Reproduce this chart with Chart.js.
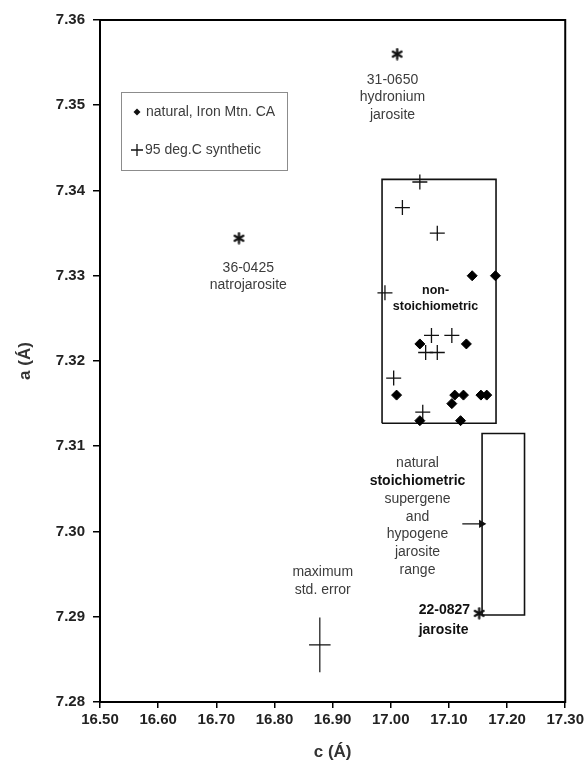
<!DOCTYPE html>
<html>
<head>
<meta charset="utf-8">
<script src="https://cdn.jsdelivr.net/npm/chart.js@4.4.1/dist/chart.umd.min.js"></script>
<style>
    html, body { margin: 0; padding: 0; background: #fff; }
    #wrap { position: relative; width: 587px; height: 763px; }
</style>
</head>
<body>
<div id="wrap"><canvas id="chart"></canvas></div>
<script>
// natural, Iron Mtn. CA  (c, a)
const naturalC = [17.14, 17.18, 17.05, 17.13, 17.01, 17.11, 17.125, 17.155, 17.165, 17.105, 17.05, 17.12];
const naturalA = [7.330, 7.330, 7.322, 7.322, 7.316, 7.316, 7.316, 7.316, 7.316, 7.315, 7.313, 7.313];

// 95 deg.C synthetic
const syntheticC = [17.05, 17.02, 17.08, 16.99, 17.07, 17.105, 17.06, 17.08, 17.005, 17.055];
const syntheticA = [7.341, 7.338, 7.335, 7.328, 7.323, 7.323, 7.321, 7.321, 7.318, 7.314];

// reference cards: 31-0650, 36-0425, 22-0827
const refC = [17.011, 16.739, 17.152];
const refA = [7.356, 7.3344, 7.2904];

// non-stoichiometric box and natural stoichiometric range box
const nonStoichC = [16.985, 17.181];
const nonStoichA = [7.3127, 7.3413];
const rangeC = [17.157, 17.230];
const rangeA = [7.2902, 7.3115];

// arrow pointing at the range box
const arrowC = [17.123, 17.156];
const arrowA = [7.3009, 7.3009];

// maximum std. error cross
const errC = [16.878];
const errA = [7.2867];
const errSizeC = [0.0185];
const errSizeA = [0.0032];

// axes
const cMin = 16.50, cMax = 17.30, cStep = 0.10;
const aMin = 7.28, aMax = 7.36, aStep = 0.01;

// text notes, placed in data units
const notes = [
    { c: 17.003, a: 7.3530, lines: [['31-0650', false], ['hydronium', false], ['jarosite', false]], size: 14, gap: 17.5 },
    { c: 16.755, a: 7.3309, lines: [['36-0425', false], ['natrojarosite', false]], size: 14, gap: 17.5 },
    { c: 17.077, a: 7.3283, lines: [['non-', true], ['stoichiometric', true]], size: 12.5, gap: 16.5 },
    { c: 17.046, a: 7.3080, lines: [['natural', false], ['stoichiometric', true], ['supergene', false], ['and', false], ['hypogene', false], ['jarosite', false], ['range', false]], size: 14, gap: 17.8 },
    { c: 16.883, a: 7.2952, lines: [['maximum', false], ['std. error', false]], size: 14, gap: 17.3 },
    { c: 17.048, a: 7.2908, lines: [['22-0827', true], ['jarosite', true]], size: 14, gap: 20, align: 'left' }
];

function toPoints(cs, as) {
    return cs.map((c, i) => ({ x: c, y: as[i] }));
}

function boxPoints(cs, as) {
    return [
        { x: cs[0], y: as[0] }, { x: cs[1], y: as[0] },
        { x: cs[1], y: as[1] }, { x: cs[0], y: as[1] },
        { x: cs[0], y: as[0] }
    ];
}

// asterisk marker
function makeAsterisk() {
    const cv = document.createElement('canvas');
    cv.width = 13; cv.height = 13;
    const g = cv.getContext('2d');
    g.strokeStyle = '#111';
    g.lineWidth = 2.3;
    g.lineCap = 'round';
    const r = 5;
    [90, 30, 150].forEach(deg => {
        const t = deg * Math.PI / 180;
        g.beginPath();
        g.moveTo(6.5 - r * Math.cos(t), 6.5 - r * Math.sin(t));
        g.lineTo(6.5 + r * Math.cos(t), 6.5 + r * Math.sin(t));
        g.stroke();
    });
    return cv;
}
const asterisk = makeAsterisk();

const lineSet = (pts, width) => ({
    data: pts,
    showLine: true,
    borderColor: '#111',
    borderWidth: width,
    pointRadius: 0,
    fill: false
});

const overlay = {
    id: 'overlay',
    afterDraw(chart) {
        const { ctx, chartArea: a, scales: { x, y } } = chart;
        ctx.save();

        // frame round the plot
        ctx.strokeStyle = '#000';
        ctx.lineWidth = 2;
        ctx.strokeRect(a.left, a.top, a.right - a.left, a.bottom - a.top);

        // notes
        ctx.textBaseline = 'middle';
        notes.forEach(n => {
            const px = x.getPixelForValue(n.c);
            const py = y.getPixelForValue(n.a);
            ctx.textAlign = n.align || 'center';
            n.lines.forEach(([text, bold], i) => {
                ctx.font = (bold ? 'bold ' : '') + n.size + 'px "Liberation Sans", Arial, sans-serif';
                ctx.fillStyle = bold ? '#111' : '#3c3c3c';
                ctx.fillText(text, px, py + i * n.gap);
            });
        });

        // legend box
        const lx = a.left + 21, ly = a.top + 72;
        ctx.strokeStyle = '#8c8c8c';
        ctx.lineWidth = 1;
        ctx.strokeRect(lx + 0.5, ly + 0.5, 166, 78);

        ctx.fillStyle = '#111';
        ctx.beginPath();
        ctx.moveTo(lx + 16, ly + 16.5);
        ctx.lineTo(lx + 19.5, ly + 20);
        ctx.lineTo(lx + 16, ly + 23.5);
        ctx.lineTo(lx + 12.5, ly + 20);
        ctx.closePath();
        ctx.fill();

        ctx.strokeStyle = '#111';
        ctx.lineWidth = 1.3;
        ctx.beginPath();
        ctx.moveTo(lx + 10, ly + 58); ctx.lineTo(lx + 22, ly + 58);
        ctx.moveTo(lx + 16, ly + 52); ctx.lineTo(lx + 16, ly + 64);
        ctx.stroke();

        ctx.font = '14px "Liberation Sans", Arial, sans-serif';
        ctx.fillStyle = '#3c3c3c';
        ctx.textAlign = 'left';
        ctx.fillText('natural, Iron Mtn. CA', lx + 25, ly + 20);
        ctx.fillText('95 deg.C synthetic', lx + 24, ly + 58);

        ctx.restore();
    }
};

const errPts = errC.map((c, i) => [
    { x: c, y: errA[i] + errSizeA[i] }, { x: c, y: errA[i] - errSizeA[i] }
]);
const errHPts = errC.map((c, i) => [
    { x: c - errSizeC[i], y: errA[i] }, { x: c + errSizeC[i], y: errA[i] }
]);

new Chart(document.getElementById('chart'), {
    type: 'scatter',
    data: {
        datasets: [
            {
                label: 'natural, Iron Mtn. CA',
                data: toPoints(naturalC, naturalA),
                pointStyle: 'rectRot',
                pointRadius: 5,
                backgroundColor: '#000',
                borderColor: '#000',
                borderWidth: 1
            },
            {
                label: '95 deg.C synthetic',
                data: toPoints(syntheticC, syntheticA),
                pointStyle: 'cross',
                pointRadius: 7.5,
                borderColor: '#111',
                borderWidth: 1.3
            },
            {
                label: 'reference',
                data: toPoints(refC, refA),
                pointStyle: asterisk,
                pointRadius: 6
            },
            lineSet(boxPoints(nonStoichC, nonStoichA), 1.6),
            lineSet(boxPoints(rangeC, rangeA), 1.6),
            Object.assign(lineSet(toPoints(arrowC, arrowA), 1.3), {
                pointStyle: 'triangle',
                rotation: 90,
                pointRadius: [0, 3.5],
                backgroundColor: '#111'
            }),
            lineSet(errPts[0], 1.2),
            lineSet(errHPts[0], 1.2)
        ]
    },
    plugins: [overlay],
    options: {
        responsive: true,
        maintainAspectRatio: false,
        animation: false,
        layout: { padding: { top: 20, right: 21, left: 0, bottom: 0 } },
        plugins: {
            legend: { display: false },
            tooltip: { enabled: false }
        },
        scales: {
            x: {
                type: 'linear',
                min: cMin,
                max: cMax,
                afterFit: s => { s.height = 61; },
                ticks: {
                    stepSize: cStep,
                    padding: 3,
                    color: '#222',
                    font: { family: '"Liberation Sans", Arial, sans-serif', size: 15, weight: 'bold' },
                    callback: v => v.toFixed(2)
                },
                grid: { drawOnChartArea: false, drawTicks: true, tickLength: 6, color: '#000', lineWidth: 1.5 },
                border: { display: true, color: '#000', width: 2 },
                title: {
                    display: true,
                    text: 'c (Á)',
                    color: '#333',
                    font: { family: '"Liberation Sans", Arial, sans-serif', size: 17, weight: 'bold' },
                    padding: { top: 0, bottom: 0 }
                }
            },
            y: {
                type: 'linear',
                min: aMin,
                max: aMax,
                afterFit: s => { s.width = 100; },
                ticks: {
                    stepSize: aStep,
                    padding: 8,
                    color: '#222',
                    font: { family: '"Liberation Sans", Arial, sans-serif', size: 15, weight: 'bold' },
                    callback: v => v.toFixed(2)
                },
                grid: { drawOnChartArea: false, drawTicks: true, tickLength: 7, color: '#000', lineWidth: 1.5 },
                border: { display: true, color: '#000', width: 2 },
                title: {
                    display: true,
                    text: 'a (Á)',
                    color: '#333',
                    font: { family: '"Liberation Sans", Arial, sans-serif', size: 17, weight: 'bold' },
                    padding: { top: 15, bottom: 0 }
                }
            }
        }
    }
});
</script>
</body>
</html>
